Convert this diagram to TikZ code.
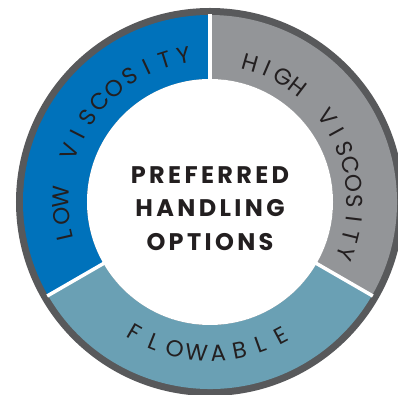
\documentclass[tikz,border=0pt]{standalone}
\usepackage{fontspec}
\setmainfont{Poppins}
\newfontfamily\ringfont{Poppins}
\newfontfamily\hubfont{Poppins}[LetterSpace=14]
\usepackage{tikz}
\definecolor{lowblue}{HTML}{0072BB}
\definecolor{highgray}{HTML}{939598}
\definecolor{flowteal}{HTML}{6AA0B4}
\definecolor{rimgray}{HTML}{58595B}
\definecolor{inkdark}{HTML}{231F20}

\newcommand\ringsize{\ringfont\fontsize{23}{23}\selectfont}
\def\gapmark{|}
\newlength\charwd
% #1 radius of the baseline, #2 start angle, #3 end angle, #4 letters
\newcommand\ringlabel[4]{%
  \gdef\sumw{0}\gdef\nch{0}%
  \foreach \ch in {#4}{%
    \edef\tmp{\ch}%
    \ifx\tmp\gapmark\setlength\charwd{6pt}\else\settowidth\charwd{\ringsize\ch}\fi
    \pgfmathsetmacro\s{\sumw+\charwd}\global\let\sumw\s
    \pgfmathtruncatemacro\k{\nch+1}\global\let\nch\k}%
  \pgfmathsetmacro\dir{sign(#3-#2)}%
  \pgfmathsetmacro\track{(abs(#3-#2)/57.2958*#1-\sumw)/(\nch-1)}%
  \xdef\curang{#2}%
  \foreach \ch in {#4}{%
    \edef\tmp{\ch}%
    \ifx\tmp\gapmark\setlength\charwd{6pt}\else\settowidth\charwd{\ringsize\ch}\fi
    \pgfmathsetmacro\mid{\curang+\dir*\charwd/2/#1*57.2958}%
    \ifx\tmp\gapmark\else
      \node[ringletter,rotate=\mid+\dir*90] at (\mid:#1) {\ch};
    \fi
    \pgfmathsetmacro\nxt{\curang+\dir*(\charwd+\track)/#1*57.2958}%
    \global\let\curang\nxt}}

\begin{document}
\begin{tikzpicture}[x=1pt,y=1pt,
  ringletter/.style={font=\ringsize,text=inkdark,anchor=base,inner sep=0pt}]
\useasboundingbox (-210,-193) rectangle (188,202);
\fill[white] (-210,-193) rectangle (188,202);
% rim and the three parts of the ring
\fill[rimgray] (0,0) circle (194);
\fill[lowblue] (90:187) arc (90:210:187) -- (210:123) arc (210:90:123) -- cycle;
\fill[flowteal] (210:187) arc (210:330:187) -- (330:123) arc (330:210:123) -- cycle;
\fill[highgray] (-30:187) arc (-30:90:187) -- (90:123) arc (90:-30:123) -- cycle;
\fill[white] (0,0) circle (123);
\draw[white,line width=3.5] (90:122) -- (90:188);
\draw[white,line width=3.5] (210:122) -- (210:188);
\draw[white,line width=3.5] (330:122) -- (330:188);
% labels
\ringlabel{141}{193}{100}{L,O,W,|,V,I,S,C,O,S,I,T,Y}
\ringlabel{137}{74}{-21}{H,I,G,H,|,V,I,S,C,O,S,I,T,Y}
\ringlabel{159}{240}{298}{F,L,O,W,A,B,L,E}
\node[font=\hubfont\bfseries\fontsize{24}{33.5}\selectfont,align=center,text=inkdark] (hub) at (0,-6.5) {PREFERRED\\HANDLING\\OPTIONS};
\end{tikzpicture}
\end{document}
